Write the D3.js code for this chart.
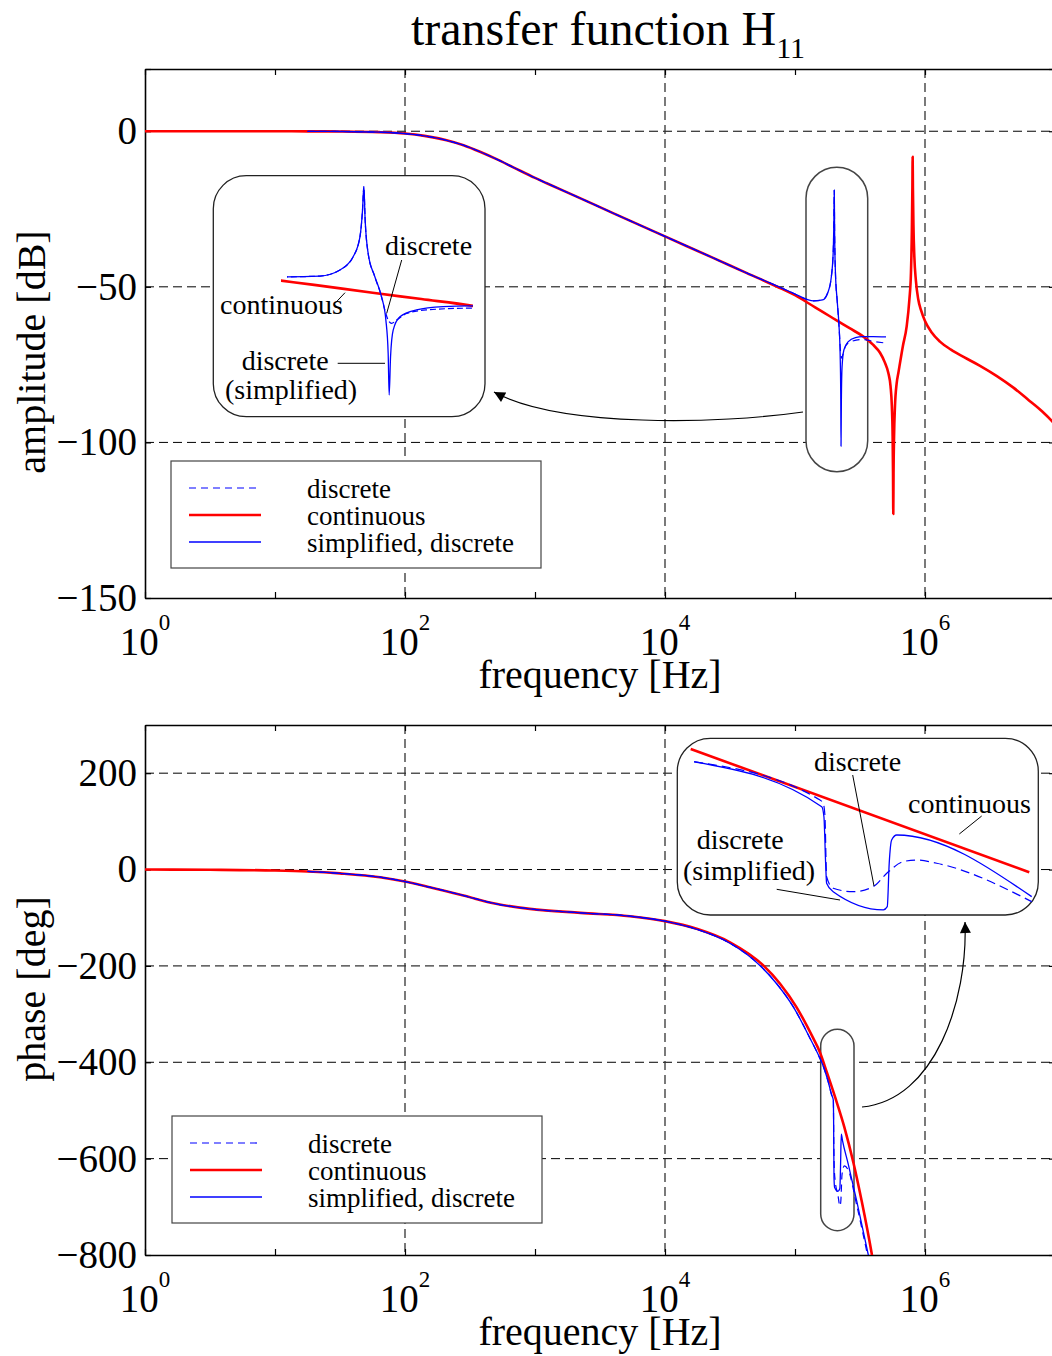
<!DOCTYPE html>
<html>
<head>
<meta charset="utf-8">
<script src="https://cdn.jsdelivr.net/npm/d3@7"></script>
<style>
  body { margin: 0; background: #fff; }
  svg { display: block; font-family: "Liberation Serif", "Times New Roman", serif; }
</style>
</head>
<body>
<svg id="fig" width="1052" height="1356"></svg>
<script>
// ---------- axis ticks ----------
const freqDecades = [0, 1, 2, 3, 4, 5, 6, 7];       // tick marks at every decade
const labelledDecades = [0, 2, 4, 6];                // 10^0, 10^2, 10^4, 10^6
const gridDecades = [2, 4, 6];
const ampTicks = [20, 0, -50, -100, -150];
const ampLabelTicks = [0, -50, -100, -150];
const ampGrid = [0, -50, -100];
const phaseTicks = [200, 0, -200, -400, -600, -800];
const phaseGrid = [200, 0, -200, -400, -600];
const seriesNames = ["discrete", "continuous", "simplified, discrete"];

// ---------- amplitude [dB], points are [log10(f/Hz), value] ----------
const ampContinuousLow = [[0, 0], [0.5, 0], [1, -0.01]];
const ampShared = [[1.25, -0.03], [1.5, -0.08], [1.8, -0.3], [2, -0.74], [2.15, -1.5], [2.32, -2.9],
  [2.45, -4.5], [2.577, -6.6], [2.7, -8.9], [2.833, -11.6], [3, -15.0], [3.09, -16.7], [3.346, -21.5],
  [3.6, -26.3], [4, -33.8], [4.37, -40.7], [4.63, -45.6]];
const ampContinuousHigh = [[4.86, -49.9], [5.0, -52.7], [5.132, -56.0], [5.2, -57.7], [5.32, -60.8],
  [5.42, -63.3], [5.526, -66.0], [5.6, -68.6], [5.654, -71.2], [5.69, -74.2], [5.718, -77.7],
  [5.735, -82.0], [5.745, -88.4], [5.751, -98], [5.754, -110], [5.756, -123], [5.758, -110],
  [5.762, -98], [5.769, -88.4], [5.782, -81.0], [5.795, -77.7], [5.83, -69.0], [5.859, -62.7],
  [5.88, -54.0], [5.892, -45.5], [5.899, -32], [5.903, -18], [5.905, -8.2], [5.907, -18],
  [5.911, -30], [5.918, -40.3], [5.93, -48], [5.948, -54.0], [5.97, -57.6], [6.0, -61.0],
  [6.05, -64.6], [6.115, -67.6], [6.2, -70.2], [6.3, -72.6], [6.42, -75.3], [6.55, -78.6],
  [6.68, -82.4], [6.8, -86.5], [6.9, -90.0], [6.977, -93.2], [7.0, -94.3]];
const ampDiscreteRise = [[4.86, -49.7], [5.0, -52.3], [5.09, -54.0], [5.1445, -54.5], [5.212, -54.2],
  [5.253, -51.8], [5.280, -46.6], [5.294, -38.7], [5.2993, -28.1], [5.302, -18.9], [5.3047, -32.1],
  [5.3108, -45.2], [5.3246, -54.5], [5.3383, -62.4]];
const ampSimplifiedTail = [[5.3472, -71.6], [5.3519, -84.7], [5.354, -101.2], [5.3568, -86.1],
  [5.3622, -75.6], [5.376, -70.3], [5.41, -67.6], [5.4648, -66.3], [5.5197, -66.0], [5.6, -66.0], [5.7, -66.1]];
const ampDiscreteTail = [[5.3451, -67.6], [5.3519, -71.6], [5.3589, -72.9], [5.3691, -71.6],
  [5.3897, -69.0], [5.4307, -67.6], [5.5197, -66.9], [5.6, -67.5], [5.7, -68.1]];

// ---------- phase [deg] ----------
const phaseContinuousLow = [[0, 0], [0.5, -0.5], [1, -2]];
const phaseShared = [[1.25, -4], [1.5, -8], [1.808, -15.9], [2, -24.9], [2.19, -36.6], [2.45, -53.9],
  [2.7, -71.2], [2.96, -81.6], [3.35, -89.9], [3.73, -96.8], [4, -107]];
const phaseContinuousHigh = [[4.244, -123], [4.5, -151], [4.756, -199], [4.885, -237], [5.01, -285],
  [5.14, -350], [5.19, -378], [5.244, -420], [5.308, -472], [5.38, -535], [5.449, -608],
  [5.513, -688], [5.59, -797], [5.62, -846]];
const phaseDiscreteFall = [[4.244, -124], [4.5, -153], [4.73, -199], [4.859, -237], [4.987, -285],
  [5.115, -350], [5.192, -392], [5.213, -405], [5.255, -440], [5.282, -468], [5.295, -479]];
const phaseSimplifiedTail = [[5.297, -520], [5.300, -640], [5.305, -660], [5.33, -668], [5.345, -662],
  [5.350, -620], [5.356, -549], [5.365, -562], [5.41, -612], [5.475, -688], [5.564, -800], [5.6, -848]];
const phaseDiscreteTail = [[5.298, -560], [5.302, -620], [5.31, -648], [5.33, -675], [5.345, -698],
  [5.352, -690], [5.362, -632], [5.38, -615], [5.41, -624], [5.475, -697], [5.564, -808], [5.6, -855]];

// magnified phase around the sampled resonance (zoom view)
const zoomPhaseContinuous = [[5.26, -430], [5.399, -529.6]];
const zoomPhaseSimplified = [[5.2614, -440.3], [5.3138, -476.6], [5.3147, -484.7], [5.3154, -522.3],
  [5.3158, -538.5], [5.3185, -545.3], [5.3391, -560.0], [5.3407, -557.4], [5.3415, -522.3],
  [5.3425, -503.5], [5.3446, -499.5], [5.40, -549.3]];
const zoomPhaseDiscrete = [[5.2614, -440.3], [5.3131, -471.2], [5.3144, -473.9], [5.3151, -483.3],
  [5.3158, -533.2], [5.3185, -542.5], [5.3267, -545.3], [5.3350, -541.2], [5.3405, -530.4],
  [5.3473, -521.0], [5.3528, -519.7], [5.3610, -522.3], [5.40, -553.3]];

// ---------- assembled series ----------
const amp = {
  continuous: ampContinuousLow.concat(ampShared, ampContinuousHigh),
  discrete: ampShared.concat(ampDiscreteRise, ampDiscreteTail),
  simplified: ampShared.concat(ampDiscreteRise, ampSimplifiedTail)
};
const phase = {
  continuous: phaseContinuousLow.concat(phaseShared, phaseContinuousHigh),
  discrete: phaseShared.concat(phaseDiscreteFall, phaseDiscreteTail),
  simplified: phaseShared.concat(phaseDiscreteFall, phaseSimplifiedTail)
};

const styles = {
  discrete:   { stroke: "#0000ff", width: 1.2, dash: "7,5" },
  continuous: { stroke: "#ff0000", width: 2.6, dash: null },
  simplified: { stroke: "#0000ff", width: 1.3, dash: null }
};
const legendKeys = ["discrete", "continuous", "simplified"];
const drawOrder = ["continuous", "discrete", "simplified"];

const svg = d3.select("#fig");
const defs = svg.append("defs");
defs.append("marker").attr("id", "arrowHead")
  .attr("viewBox", "0 0 10 10").attr("refX", 10).attr("refY", 5)
  .attr("markerWidth", 15).attr("markerHeight", 11)
  .attr("markerUnits", "userSpaceOnUse").attr("orient", "auto")
  .append("path").attr("d", "M0,0L10,5L0,10z").attr("fill", "#000");

const left = 145, right = 1055;
const x = d3.scaleLog().domain([1, 1e7]).range([left, right]);

function styled(sel, key) {
  const s = styles[key];
  sel.attr("fill", "none").attr("stroke", s.stroke).attr("stroke-width", s.width)
    .attr("stroke-linejoin", "round");
  if (s.dash) sel.attr("stroke-dasharray", s.dash);
  return sel;
}

// title
svg.append("text").attr("x", 608).attr("y", 45).attr("text-anchor", "middle")
  .attr("font-size", 48)
  .call(t => {
    t.append("tspan").text("transfer function H");
    t.append("tspan").attr("font-size", 30).attr("dy", 13).text("11");
  });

const panels = [
  { id: "amp", top: 69, bottom: 598, domain: [-150, 20], ticks: ampTicks, labels: ampLabelTicks,
    grid: ampGrid, ylabel: "amplitude [dB]", ylabelY: 352, data: amp,
    legend: { x: 171, y: 461, w: 370, h: 107 } },
  { id: "phase", top: 725, bottom: 1255, domain: [-800, 300], ticks: phaseTicks, labels: phaseTicks,
    grid: phaseGrid, ylabel: "phase [deg]", ylabelY: 989, data: phase,
    legend: { x: 172, y: 1116, w: 370, h: 107 } }
];

panels.forEach(p => {
  const y = d3.scaleLinear().domain(p.domain).range([p.bottom, p.top]);
  p.y = y;
  const g = svg.append("g");

  defs.append("clipPath").attr("id", "clip-" + p.id).append("rect")
    .attr("x", left).attr("y", p.top).attr("width", right - left).attr("height", p.bottom - p.top);

  // dashed grid
  const grid = g.append("g").attr("stroke", "#000").attr("stroke-width", 1).attr("stroke-dasharray", "9,5");
  grid.selectAll(".h").data(p.grid).join("line").attr("class", "h")
    .attr("x1", left).attr("x2", right).attr("y1", d => y(d)).attr("y2", d => y(d));
  grid.selectAll(".v").data(gridDecades).join("line").attr("class", "v")
    .attr("x1", d => x(10 ** d)).attr("x2", d => x(10 ** d)).attr("y1", p.top).attr("y2", p.bottom)
    .attr("stroke", "#333").attr("stroke-width", 1.3);

  // frame and ticks
  const fv = freqDecades.map(d => 10 ** d);
  const yv = p.ticks.filter(v => v >= p.domain[0] && v <= p.domain[1]);
  const axes = [
    [d3.axisBottom(x).tickValues(fv), `translate(0,${p.bottom})`],
    [d3.axisTop(x).tickValues(fv), `translate(0,${p.top})`],
    [d3.axisLeft(y).tickValues(yv), `translate(${left},0)`],
    [d3.axisRight(y).tickValues(yv), `translate(${right},0)`]
  ];
  axes.forEach(([ax, tr]) => {
    const a = g.append("g").attr("transform", tr)
      .call(ax.tickSizeInner(-6).tickSizeOuter(0).tickFormat(""));
    a.select(".domain").attr("stroke", "#000").attr("stroke-width", 1.6);
    a.selectAll(".tick line").attr("stroke", "#000").attr("stroke-width", 1.2);
  });

  // y tick labels
  g.append("g").selectAll("text").data(p.labels).join("text")
    .attr("x", 137).attr("y", d => y(d)).attr("dy", "0.33em")
    .attr("text-anchor", "end").attr("font-size", 39)
    .text(d => d3.format("d")(d));

  // x tick labels 10^n
  g.append("g").selectAll("text").data(labelledDecades).join("text")
    .attr("x", d => x(10 ** d)).attr("y", p.bottom + 57)
    .attr("text-anchor", "middle").attr("font-size", 39)
    .each(function (d) {
      const t = d3.select(this);
      t.append("tspan").text("10");
      t.append("tspan").attr("font-size", 23).attr("dy", -25).text(d);
    });

  // axis labels
  g.append("text").attr("x", 600).attr("y", p.bottom + 90).attr("text-anchor", "middle")
    .attr("font-size", 40).text("frequency [Hz]");
  g.append("text").attr("transform", `translate(45,${p.ylabelY}) rotate(-90)`)
    .attr("text-anchor", "middle").attr("font-size", 40).text(p.ylabel);

  p.g = g;
});

// capsules marking the magnified region (white fill hides the grid beneath)
const capsules = [
  { panel: 0, x: 806, y: 167.3, w: 61.7, h: 304.4, r: 31 },
  { panel: 1, x: 820.7, y: 1029.3, w: 33.3, h: 201.4, r: 16.7 }
];
capsules.forEach(c => {
  panels[c.panel].g.append("rect").attr("x", c.x).attr("y", c.y).attr("width", c.w).attr("height", c.h)
    .attr("rx", c.r).attr("ry", c.r).attr("fill", "#fff").attr("stroke", "#444").attr("stroke-width", 1.5);
});

// curves
panels.forEach(p => {
  const line = d3.line().x(d => x(10 ** d[0])).y(d => p.y(d[1])).curve(d3.curveMonotoneX);
  const cg = p.g.append("g").attr("clip-path", `url(#clip-${p.id})`);
  drawOrder.forEach(k => styled(cg.append("path").datum(p.data[k]).attr("d", line), k));

  // legend
  const L = p.legend;
  const lg = p.g.append("g").attr("transform", `translate(${L.x},${L.y})`);
  lg.append("rect").attr("width", L.w).attr("height", L.h).attr("fill", "#fff")
    .attr("stroke", "#444").attr("stroke-width", 1.2);
  legendKeys.forEach((k, i) => {
    const yy = 27 + i * 27;
    styled(lg.append("line").attr("x1", 18).attr("x2", 90).attr("y1", yy).attr("y2", yy), k);
    lg.append("text").attr("x", 136).attr("y", yy + 10).attr("font-size", 27).text(seriesNames[i]);
  });
});

// ---------- magnified view of the amplitude resonance ----------
const ins1 = svg.append("g");
ins1.append("rect").attr("x", 213.3).attr("y", 175.7).attr("width", 271.7).attr("height", 241)
  .attr("rx", 33).attr("ry", 33).attr("fill", "#fff").attr("stroke", "#222").attr("stroke-width", 1.3);
const xi = d3.scaleLinear().domain([5.132, 5.526]).range([281, 473]);
const yi = d3.scaleLinear().domain([-18.9, -101.2]).range([186.7, 395]);
defs.append("clipPath").attr("id", "clip-ins1-red").append("rect")
  .attr("x", xi(5.132)).attr("y", 180).attr("width", xi(5.526) - xi(5.132)).attr("height", 232);
defs.append("clipPath").attr("id", "clip-ins1-blue").append("rect")
  .attr("x", xi(5.1445)).attr("y", 180).attr("width", xi(5.526) - xi(5.1445)).attr("height", 232);
const lineI1 = d3.line().x(d => xi(d[0])).y(d => yi(d[1])).curve(d3.curveMonotoneX);
drawOrder.forEach(k => {
  styled(ins1.append("path").datum(amp[k]).attr("d", lineI1)
    .attr("clip-path", k === "continuous" ? "url(#clip-ins1-red)" : "url(#clip-ins1-blue)"), k)
    .attr("stroke-dasharray", k === "discrete" ? "6,3" : null);
});
const note = (g, xx, yy, txt, anchor) => g.append("text").attr("x", xx).attr("y", yy)
  .attr("font-size", 28).attr("text-anchor", anchor || "start").text(txt);
const lead = (g, x1, y1, x2, y2) => g.append("line").attr("x1", x1).attr("y1", y1).attr("x2", x2).attr("y2", y2)
  .attr("stroke", "#000").attr("stroke-width", 1);
note(ins1, 385, 255, "discrete");
lead(ins1, 401.7, 260, 386.7, 313.3);
note(ins1, 220, 314, "continuous");
lead(ins1, 335, 303.3, 345, 292.7);
note(ins1, 241.7, 370, "discrete");
lead(ins1, 337.7, 363.3, 385, 363.3);
note(ins1, 225, 399, "(simplified)");

// ---------- magnified view of the phase step ----------
const ins2 = svg.append("g");
ins2.append("rect").attr("x", 677.3).attr("y", 738.3).attr("width", 361).attr("height", 176.7)
  .attr("rx", 33).attr("ry", 33).attr("fill", "#fff").attr("stroke", "#222").attr("stroke-width", 1.3);
const xz = d3.scaleLinear().domain([5.26, 5.40]).range([690.7, 1031.7]);
const yz = d3.scaleLinear().domain([-430, -560]).range([749, 909.9]);
const lineI2 = d3.line().x(d => xz(d[0])).y(d => yz(d[1])).curve(d3.curveMonotoneX);
const zoomPhase = { continuous: zoomPhaseContinuous, discrete: zoomPhaseDiscrete, simplified: zoomPhaseSimplified };
drawOrder.forEach(k => {
  styled(ins2.append("path").datum(zoomPhase[k]).attr("d", lineI2), k)
    .attr("stroke-dasharray", k === "discrete" ? "9,5" : null);
});
note(ins2, 814, 771, "discrete");
lead(ins2, 852.7, 775, 874, 886);
note(ins2, 908, 813, "continuous");
lead(ins2, 981.7, 816, 959.3, 834);
note(ins2, 696.7, 849, "discrete");
note(ins2, 683, 880, "(simplified)");
lead(ins2, 776.7, 889.3, 840, 900);

// ---------- callout arrows ----------
svg.append("path").attr("d", "M803,412 C720,424 560,428 494,392")
  .attr("fill", "none").attr("stroke", "#000").attr("stroke-width", 1.2).attr("marker-end", "url(#arrowHead)");
svg.append("path").attr("d", "M862,1107 C935,1100 968,1000 965,922")
  .attr("fill", "none").attr("stroke", "#000").attr("stroke-width", 1.2).attr("marker-end", "url(#arrowHead)");
</script>
</body>
</html>
